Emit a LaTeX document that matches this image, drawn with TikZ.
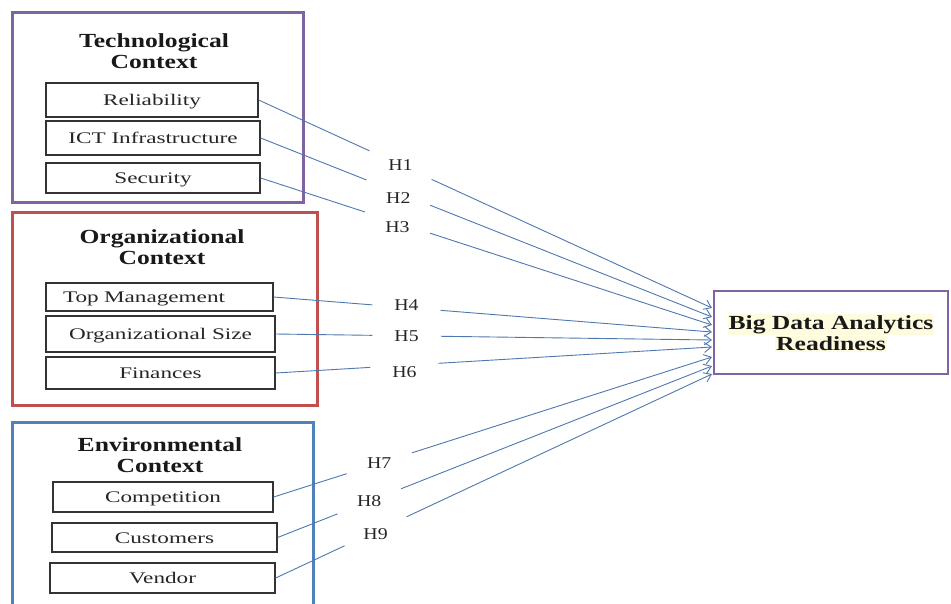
\documentclass[tikz,border=0pt]{standalone}
\usepackage{fontspec}
\setmainfont{Liberation Serif}
\newfontfamily\itemfont[FakeStretch=1.43]{Liberation Serif}
\newfontfamily\headfont[FakeStretch=1.28]{Liberation Serif}
\newfontfamily\hypfont[FakeStretch=1.2]{Liberation Serif}
\usetikzlibrary{arrows.meta,calc}

\definecolor{techcol}{RGB}{128,100,162}
\definecolor{orgcol}{RGB}{192,80,77}
\definecolor{envcol}{RGB}{79,129,189}
\definecolor{linkcol}{RGB}{79,120,175}
\definecolor{hilite}{RGB}{255,251,222}

\tikzset{
  frame/.style={draw, line width=3pt, inner sep=0pt},
  factor/.style={draw=black!80, line width=1.3pt, inner sep=0pt,
    font=\itemfont\fontsize{16.2}{19}\selectfont, text=black!85,
    text height=11pt, text depth=0pt},
  heading/.style={align=center, font=\headfont\bfseries\fontsize{20}{21}\selectfont, text=black!90},
  % a round gap in the path; the hypothesis name is its label
  hyp/.style={circle, inner sep=0pt, minimum size=68pt},
  hyptext/.style={inner sep=0pt, font=\hypfont\fontsize{16.5}{18}\selectfont, text=black!85},
  link/.style={draw=linkcol, line width=0.9pt},
  linkarrow/.style={link, -{Straight Barb[length=7pt,width=10pt,line width=0.9pt]}},
}

\begin{document}
\begin{tikzpicture}[x=1pt,y=-1pt]
\useasboundingbox (0,0) rectangle (951,603);
\clip (0,0) rectangle (951,603);
\fill[white] (0,0) rectangle (951,603);

% context frames
\node[frame, draw=techcol, minimum width=291pt, minimum height=190pt] (tech) at (157.5,107) {};
\node[frame, draw=orgcol,  minimum width=305pt, minimum height=193pt] (org)  at (164.5,308.5) {};
\node[frame, draw=envcol,  minimum width=301pt, minimum height=198pt] (env)  at (162.5,521) {};

\node[heading] (techhead) at (154,51)  {Technological\\Context};
\node[heading] (orghead)  at (162,247) {Organizational\\Context};
\node[heading] (envhead)  at (160,455) {Environmental\\Context};

% factors
\node[factor, minimum width=212pt, minimum height=34pt] (rel)  at (152,100)   {Reliability};
\node[factor, minimum width=214pt, minimum height=34pt] (ict)  at (153,138)   {ICT Infrastructure};
\node[factor, minimum width=214pt, minimum height=30pt] (sec)  at (153,178)   {Security};
\node[factor, minimum width=227pt, minimum height=28pt, text width=193pt, align=left]
     (top)  at (159.5,297) {Top Management};
\node[factor, minimum width=229pt, minimum height=36pt] (size) at (160.5,334) {Organizational Size};
\node[factor, minimum width=229pt, minimum height=32pt] (fin)  at (160.5,373) {Finances};
\node[factor, minimum width=220pt, minimum height=30pt] (comp) at (163,497)   {Competition};
\node[factor, minimum width=225pt, minimum height=29pt] (cust) at (164.5,537.5) {Customers};
\node[factor, minimum width=225pt, minimum height=30pt] (vend) at (162.5,578) {Vendor};

% outcome
\node[draw=techcol, line width=2.5pt, minimum width=234pt, minimum height=83pt, inner sep=0pt,
      align=center, font=\headfont\bfseries\fontsize{20}{20}\selectfont, text=black!90,
      text depth=-12pt]
      (bda) at (831,332.5)
      {\setlength{\fboxsep}{1pt}\colorbox{hilite}{Big Data Analytics}\\[0pt]
       \setlength{\fboxsep}{1pt}\colorbox{hilite}{Readiness}};

% arrow tips along the left side of the outcome box
\coordinate (e1) at (712,308);
\coordinate (e2) at (712,317);
\coordinate (e3) at (712,325);
\coordinate (e4) at (712,332);
\coordinate (e5) at (712,340);
\coordinate (e6) at (712,347);
\coordinate (e7) at (712,357);
\coordinate (e8) at (712,366);
\coordinate (e9) at (712,374);

% hypotheses, each sitting on its path
\node[hyp, label={[hyptext]center:H1}] (h1) at ($(rel.east)!0.313!(e1)$) {};
\node[hyp, label={[hyptext, yshift=-5pt]center:H2}] (h2) at ($(ict.east)!0.305!(e2)$) {};
\node[hyp, label={[hyptext, yshift=-5pt]center:H3}] (h3) at ($(sec.east)!0.303!(e3)$) {};
\node[hyp, label={[hyptext, yshift=3pt]center:H4}] (h4) at ($(top.east)!0.303!(e4)$) {};
\node[hyp, label={[hyptext]center:H5}] (h5) at ($(size.east)!0.300!(e5)$) {};
\node[hyp, label={[hyptext, yshift=-7pt]center:H6}] (h6) at ($(fin.east)!0.295!(e6)$) {};
\node[hyp, label={[hyptext]center:H7}] (h7) at ($(comp.east)!0.241!(e7)$) {};
\node[hyp, label={[hyptext]center:H8}] (h8) at ($(cust.east)!0.211!(e8)$) {};
\node[hyp, label={[hyptext, yshift=-3pt]center:H9}] (h9) at ($(vend.east)!0.229!(e9)$) {};

% paths
\foreach \src/\h/\e in {rel/h1/e1, ict/h2/e2, sec/h3/e3, top/h4/e4, size/h5/e5,
                        fin/h6/e6, comp/h7/e7, cust/h8/e8, vend/h9/e9}{
  \draw[link] (\src.east) -- (\h);
  \draw[linkarrow] (\h) -- (\e);
}
\end{tikzpicture}
\end{document}
